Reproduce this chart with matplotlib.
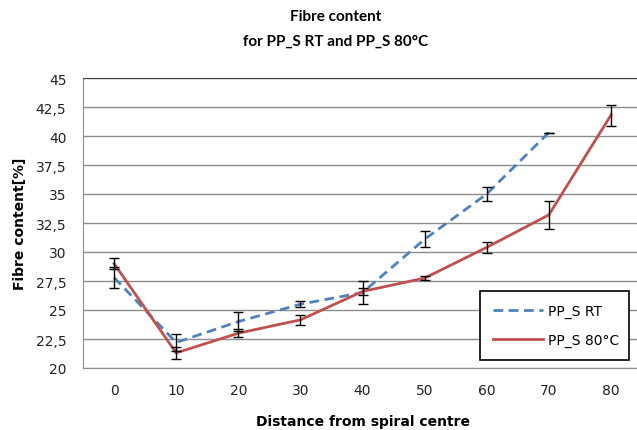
import numpy as np
import matplotlib.pyplot as plt
from matplotlib.ticker import FuncFormatter

# Fibre content along the spiral, two processing temperatures
distance = ['0', '10', '20', '30', '40', '50', '60', '70', '80']
rt_mean = [27.8, 22.2, 24.0, 25.5, 26.5, 31.1, 35.0, 40.3]
rt_err = [0.9, 0.7, 0.8, 0.25, 1.0, 0.7, 0.6, 0.0]
hot_mean = [29.0, 21.3, 23.0, 24.15, 26.6, 27.75, 30.4, 33.2, 41.8]
hot_err = [0.5, 0.5, 0.35, 0.4, 0.3, 0.15, 0.5, 1.2, 0.9]

blue = '#4F81BD'
red = '#C0504D'

fig = plt.figure(figsize=(6.37, 4.31), dpi=100)
ax = fig.add_axes([83/637, (431-369)/431, 559/637, 290/431])

x_rt = np.arange(len(rt_mean))
x_hot = np.arange(len(hot_mean))

ax.plot(x_rt, rt_mean, color=blue, lw=2, ls=(0, (3.5, 2)), label='PP_S RT', zorder=3)
ax.errorbar(x_rt, rt_mean, yerr=rt_err, fmt='none', ecolor='black', elinewidth=1,
            capsize=3.5, capthick=1, zorder=4)
ax.plot(x_hot, hot_mean, color=red, lw=2, label='PP_S 80°C', zorder=3)
ax.errorbar(x_hot, hot_mean, yerr=hot_err, fmt='none', ecolor='black', elinewidth=1,
            capsize=3.5, capthick=1, zorder=4)

ax.set_xlim(-0.5, 8.5)
ax.set_ylim(20, 45)
ax.set_yticks(np.arange(20, 45.1, 2.5))
ax.yaxis.set_major_formatter(FuncFormatter(
    lambda v, p: ('%g' % v).replace('.', ',')))
ax.set_xticks(x_hot)
ax.set_xticklabels(distance)
ax.tick_params(length=0, labelsize=10, colors='#222222', pad=11)
ax.tick_params(axis='y', pad=12)

ax.grid(axis='y', color='#8c8c8c', lw=1)
ax.set_axisbelow(True)
for s in ['left', 'bottom']:
    ax.spines[s].set_color('#8c8c8c')
ax.spines['top'].set_color('#404040')
ax.spines['right'].set_visible(False)

ax.set_ylabel('Fibre content[%]', fontsize=10, fontweight='bold', labelpad=6)
ax.set_xlabel('Distance from spiral centre', fontsize=10, fontweight='bold', labelpad=12)

title_font = dict(ha='center', va='center', fontsize=11, fontweight='bold',
                  family=['Lato', 'DejaVu Sans'])
fig.text(336/637, 1 - 17/431, 'Fibre content', **title_font)
fig.text(336/637, 1 - 42/431, 'for PP_S RT and PP_S 80°C', **title_font)

leg = ax.legend(loc='lower left', bbox_to_anchor=((480-83)/559, (369-361)/290,
                (629-480)/559, (361-288)/290), mode='expand', fancybox=False,
                framealpha=1, edgecolor='black', fontsize=10, handlelength=3.6,
                handletextpad=0.4, labelspacing=1.1, borderpad=0.9,
                borderaxespad=0)
leg.get_frame().set_linewidth(1.2)

fig.savefig('out.png', dpi=100)
